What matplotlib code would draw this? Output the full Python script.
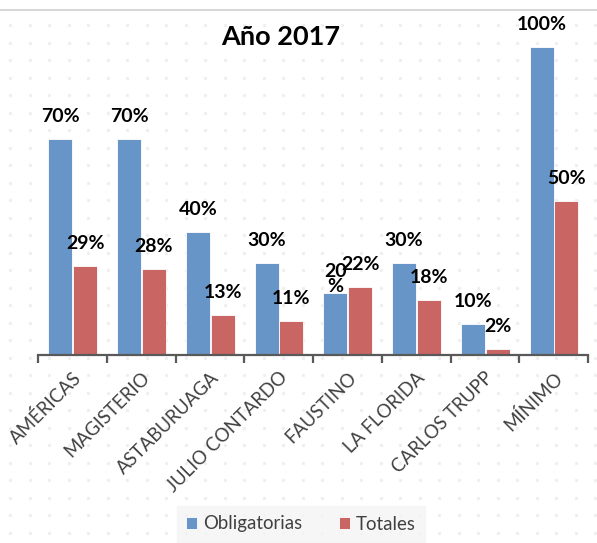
import numpy as np
import matplotlib
matplotlib.use("Agg")
import matplotlib.pyplot as plt

plt.rcParams['font.family'] = ['Lato', 'DejaVu Sans']

categories = ["AMÉRICAS", "MAGISTERIO", "ASTABURUAGA", "JULIO CONTARDO",
              "FAUSTINO", "LA FLORIDA", "CARLOS TRUPP", "MÍNIMO"]
obligatorias = [0.70, 0.70, 0.40, 0.30, 0.20, 0.30, 0.10, 1.00]
totales = [0.29, 0.28, 0.13, 0.11, 0.22, 0.18, 0.02, 0.50]
obl_labels = ["70%", "70%", "40%", "30%", "20\n%", "30%", "10%", "100%"]
tot_labels = ["29%", "28%", "13%", "11%", "22%", "18%", "2%", "50%"]

BLUE = "#6795C7"
RED = "#C96563"
GREY = "#404040"

fig = plt.figure(figsize=(5.97, 5.43), dpi=100)

# faint dotted background texture
bg = fig.add_axes([0, 0, 1, 1], zorder=-10)
bg.set_xlim(0, 597)
bg.set_ylim(543, 0)
bg.axis("off")
gx, gy = np.meshgrid(np.arange(10, 597, 19.5), np.arange(25, 543, 17.5))
bg.scatter(gx.ravel(), gy.ravel(), s=6, color="#EFEFEF", linewidths=0)
bg.plot([0, 597], [10, 10], color="#D0D0D0", linewidth=1.2)

ax = fig.add_axes([38 / 597, 1 - 355 / 543, 550 / 597, 339 / 543])
ax.patch.set_alpha(0)

x = np.arange(len(categories))
w = 0.35
b1 = ax.bar(x - 0.175, obligatorias, w, color=BLUE, edgecolor="white", linewidth=0.6)
b2 = ax.bar(x + 0.185, totales, w, color=RED, edgecolor="white", linewidth=0.6)

for rect, lab in zip(b1, obl_labels):
    cx = rect.get_x() + rect.get_width() / 2
    h = rect.get_height()
    if "\n" in lab:
        ax.text(cx, h - 0.005, lab, ha="center", va="bottom", fontsize=14,
                fontweight="bold", color="black", linespacing=0.85)
    else:
        ax.text(cx, h + 0.045, lab, ha="center", va="bottom", fontsize=14,
                fontweight="bold", color="black")
for rect, lab in zip(b2, tot_labels):
    cx = rect.get_x() + rect.get_width() / 2
    h = rect.get_height()
    ax.text(cx, h + 0.045, lab, ha="center", va="bottom", fontsize=14,
            fontweight="bold", color="black")

ax.set_xlim(-0.5, len(categories) - 0.5)
ax.set_ylim(0, 1.1)
ax.set_yticks([])
for s in ["top", "right", "left"]:
    ax.spines[s].set_visible(False)
ax.spines["bottom"].set_color("#595959")
ax.spines["bottom"].set_linewidth(1.6)

ax.set_xticks(x)
ax.set_xticklabels(categories, rotation=45, ha="right", rotation_mode="anchor",
                   fontsize=13.4, color=GREY)
ax.tick_params(axis="x", which="major", length=0, pad=10)
ax.set_xticks(np.arange(-0.5, len(categories)), minor=True)
ax.tick_params(axis="x", which="minor", length=6, width=1.6, color="#595959")

fig.text(281 / 597, 1 - 37 / 543, "Año 2017", ha="center", va="center",
         fontsize=19.5, fontweight="bold", color="black")

leg = fig.legend([b1, b2], ["Obligatorias", "Totales"], loc="center",
                 bbox_to_anchor=(301 / 597, 1 - 524 / 543), ncol=2, fontsize=13.4,
                 frameon=True, fancybox=False, handlelength=0.6, handleheight=0.6,
                 handletextpad=0.3, columnspacing=2.0, borderpad=0.5,
                 borderaxespad=0)
leg.get_frame().set_facecolor("#F4F4F4")
leg.get_frame().set_edgecolor("#F4F4F4")
for t in leg.get_texts():
    t.set_color(GREY)

fig.savefig("out.png", dpi=100)
